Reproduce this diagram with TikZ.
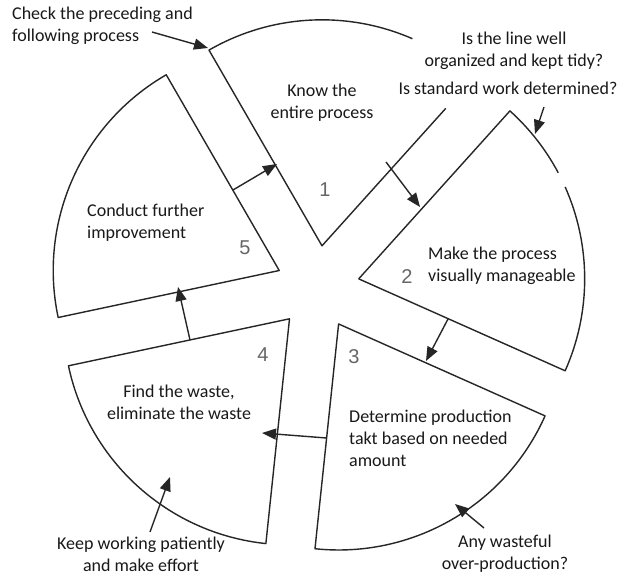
\documentclass[tikz,border=0pt]{standalone}
\usepackage{fontspec}
\setmainfont{Carlito}
\newfontfamily\numfont{Liberation Sans}
\usetikzlibrary{arrows.meta,calc}
\tikzset{
  edge/.style={line width=1.4pt, line join=round, draw=black!85},
  conn/.style={line width=1.4pt, draw=black!85, -{Triangle[length=14pt,width=11pt]}},
  lbl/.style={font=\fontsize{18}{22}\selectfont, inner sep=0pt, text=black!90},
  num/.style={font=\numfont\fontsize{20}{20}\selectfont, inner sep=0pt, text=black!60},
}
\begin{document}
\begin{tikzpicture}[x=1pt,y=1pt]
\useasboundingbox (0,0) rectangle (620,575);
\fill[white] (0,0) rectangle (620,575);
% centre and apexes
\coordinate (C) at (317.6,287.4);
\coordinate (a1) at ([shift={(84:42)}]C);
\coordinate (a2) at ([shift={(12:42)}]C);
\coordinate (a3) at ([shift={(300:42)}]C);
\coordinate (a4) at ([shift={(228:42)}]C);
\coordinate (a5) at ([shift={(156:42)}]C);
% sectors
\draw[edge] ([shift={(48:185)}]a1) -- (a1) -- ++(120:226) arc[start angle=120, end angle=66.4, radius=226];
\draw[edge] (a2) -- ++(48:226) arc[start angle=48, end angle=28, radius=226];
\draw[edge] ([shift={(24:226)}]a2) arc[start angle=24, end angle=-24, radius=226] -- (a2);
\draw[edge] (a3) -- ++(-24:226) arc[start angle=-24, end angle=-96, radius=226] -- cycle;
\draw[edge] (a4) -- ++(192:226) arc[start angle=192, end angle=264, radius=226] -- cycle;
\draw[edge] (a5) -- ++(120:226) arc[start angle=120, end angle=192, radius=226] -- cycle;
% connector end points
\coordinate (p51) at (233,385);   \coordinate (q51) at (277,411);
\coordinate (p12) at (386,413);   \coordinate (q12) at (420,368);
\coordinate (p23) at (448,256);   \coordinate (q23) at (426,214);
\coordinate (p34) at (326.5,137); \coordinate (q34) at (262,142);
\coordinate (p45) at (190,235);   \coordinate (q45) at (178,288);
\coordinate (pc) at (152,543);    \coordinate (qc) at (208,527);
\coordinate (ps) at (544,468);    \coordinate (qs) at (535,441);
\coordinate (pk) at (150,43);     \coordinate (qk) at (170,98);
\coordinate (pa) at (484,47);     \coordinate (qa) at (455,71);
\draw[conn] (p51) -- (q51);
\draw[conn] (p12) -- (q12);
\draw[conn] (p23) -- (q23);
\draw[conn] (p34) -- (q34);
\draw[conn] (p45) -- (q45);
\draw[conn] (pc) -- (qc);
\draw[conn] (ps) -- (qs);
\draw[conn] (pk) -- (qk);
\draw[conn] (pa) -- (qa);
% texts
\node[lbl, align=left, anchor=west] (tcheck) at (12,549) {Check the preceding and\\following process};
\node[lbl, align=center] (tknow) at (322,472) {Know the\\entire process};
\node[lbl, align=center] (tline) at (514,524) {Is the line well\\organized and kept tidy?};
\node[lbl, align=center] (tstd) at (508,487) {Is standard work determined?};
\node[lbl, align=left, anchor=west] (tmake) at (428,309) {Make the process\\visually manageable};
\node[lbl, align=left, anchor=west] (tdet) at (349,137) {Determine production\\takt based on needed\\amount};
\node[lbl, align=center] (tfind) at (179,173) {Find the waste,\\eliminate the waste};
\node[lbl, align=left, anchor=west] (tcond) at (87,352) {Conduct further\\improvement};
\node[lbl, align=center] (tkeep) at (141,21) {Keep working patiently\\and make effort};
\node[lbl, align=center] (tany) at (505,21) {Any wasteful\\over-production?};
\node[num] (n1) at (325,385) {1};
\node[num] (n2) at (407,298) {2};
\node[num] (n3) at (354,218) {3};
\node[num] (n4) at (263,220) {4};
\node[num] (n5) at (245,327) {5};
\end{tikzpicture}
\end{document}
